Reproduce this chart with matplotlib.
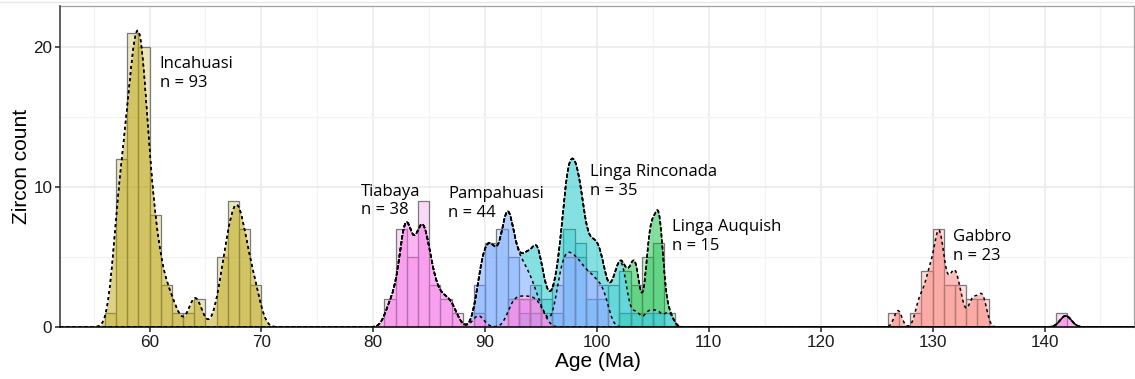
import numpy as np
import matplotlib.pyplot as plt
from matplotlib.colors import to_rgba
from matplotlib.ticker import MultipleLocator

# U-Pb zircon ages (Ma), one list per unit
gabbro = [126.9, 128.7, 129.1, 129.5, 129.7, 129.9, 130.15, 130.35, 130.45, 130.55,
          130.65, 130.8, 130.95, 131.2, 131.6, 131.8, 132.05, 132.2, 132.6, 133.4,
          133.8, 134.3, 134.6]

incahuasi = [56.75,
             57.02, 57.08, 57.15, 57.2, 57.3, 57.35, 57.45, 57.5, 57.6, 57.7, 57.8, 57.9,
             58.02, 58.05, 58.1, 58.15, 58.2, 58.25, 58.3, 58.35, 58.4, 58.45, 58.5,
             58.55, 58.6, 58.65, 58.7, 58.75, 58.8, 58.85, 58.9, 58.95, 58.98,
             59.02, 59.05, 59.08, 59.1, 59.12, 59.15, 59.2, 59.25, 59.3, 59.35, 59.4,
             59.45, 59.5, 59.55, 59.6, 59.65, 59.7, 59.8, 59.85, 59.9,
             60.05, 60.15, 60.25, 60.35, 60.5, 60.6, 60.75, 60.9,
             61.2, 61.5, 61.8, 62.3, 63.8, 64.1, 64.35,
             66.1, 66.5, 66.7, 66.85, 66.95,
             67.1, 67.25, 67.4, 67.5, 67.6, 67.7, 67.8, 67.9, 67.95,
             68.05, 68.15, 68.3, 68.45, 68.6, 68.75, 68.9,
             69.2, 69.45, 69.7]

linga_auquish = [102.9, 103.2, 103.4, 103.6, 104.5, 104.7, 104.8, 104.9, 104.95,
                 105.3, 105.45, 105.55, 105.6, 105.65, 105.75]

linga_rinconada = [93.85, 94.5, 94.65, 94.8, 95.2, 95.7, 96.3,
                   97.05, 97.2, 97.35, 97.5, 97.65, 97.8, 97.92,
                   98.05, 98.2, 98.35, 98.5, 98.7, 98.9,
                   99.4, 99.8, 100.1, 100.5, 101.3, 101.6, 101.85,
                   102.05, 102.2, 102.35, 102.6, 103.5, 104.6, 105.4, 106.4]

pampahuasi = [89.5, 89.75, 89.9, 90.1, 90.25, 90.4, 90.55, 90.7, 90.85,
              91.1, 91.3, 91.5, 91.65, 91.8, 91.9, 91.95,
              92.05, 92.15, 92.3, 92.5, 92.8, 93.2, 93.5, 94.1,
              96.5, 96.7, 96.9, 97.1, 97.3, 97.45, 97.6, 97.8,
              98.05, 98.2, 98.4, 98.6, 98.85, 99.1, 99.35, 99.6, 99.85,
              100.2, 100.5, 100.8]

tiabaya = [81.4, 81.75, 82.3, 82.5, 82.7, 82.8, 82.88, 82.94, 82.98,
           83.05, 83.15, 83.3, 83.7, 83.9,
           84.05, 84.15, 84.25, 84.35, 84.45, 84.55, 84.7, 84.85, 84.95,
           85.2, 85.5, 85.8, 86.3, 86.7, 87.2, 89.4,
           92.3, 92.7, 93.2, 93.6, 94.1, 94.5, 95.05, 141.9]

units = ['Gabbro', 'Incahuasi', 'Linga Auquish', 'Linga Rinconada', 'Pampahuasi', 'Tiabaya']
ages = [gabbro, incahuasi, linga_auquish, linga_rinconada, pampahuasi, tiabaya]
colours = ['#F8766D', '#B79F00', '#00BA38', '#00BFC4', '#619CFF', '#F564E3']
bandwidths = [0.34, 0.53, 0.35, 0.4, 0.45, 0.5]

# where each unit's name goes
label_xy = [(131.8, 5.75), (60.9, 18.1), (106.7, 6.43), (99.4, 10.38), (86.7, 8.79), (78.9, 9.0)]

x_min, x_max = 52, 148


def kde_counts(values, grid, bw):
    # gaussian kernel density scaled to counts per Ma
    v = np.asarray(values)
    z = (grid[:, None] - v[None, :]) / bw
    return np.exp(-0.5 * z ** 2).sum(axis=1) / (bw * np.sqrt(2 * np.pi))


fig = plt.figure(figsize=(11.35, 3.79), dpi=100)
ax = fig.add_axes([60 / 1135, 52 / 379, 1074 / 1135, 321 / 379])

# 1 Ma histograms, overlapping
edges = np.arange(x_min, x_max + 1, 1.0)
for a, c in zip(ages, colours):
    counts, _ = np.histogram(a, edges)
    keep = counts > 0
    ax.bar(edges[:-1][keep], counts[keep], width=1.0, align='edge',
           facecolor=to_rgba(c, 0.25), edgecolor='#7a7a7a', linewidth=0.9, zorder=2)

# stacked density curves, Tiabaya at the bottom
grid = np.linspace(x_min, x_max, 1500)
cum = np.zeros_like(grid)
tops = []
for i in reversed(range(len(units))):
    d = kde_counts(ages[i], grid, bandwidths[i])
    ax.fill_between(grid, cum, cum + d, color=colours[i], alpha=0.48, linewidth=0, zorder=3)
    cum = cum + d
    tops.append(cum.copy())
for top in tops:
    ax.plot(grid, top, color='black', linewidth=1.1, linestyle=(0, (2, 2)), zorder=4)

for (lx, ly), name, a in zip(label_xy, units, ages):
    ax.text(lx, ly, f'{name}\nn = {len(a)}', fontsize=12, family='Open Sans',
            ha='left', va='center', linespacing=1.25, zorder=5)

ax.set_xlim(x_min, x_max)
ax.set_ylim(0, 321 / 14)
ax.xaxis.set_major_locator(MultipleLocator(10))
ax.xaxis.set_minor_locator(MultipleLocator(5))
ax.yaxis.set_major_locator(MultipleLocator(10))
ax.yaxis.set_minor_locator(MultipleLocator(5))
ax.set_axisbelow(True)
ax.grid(which='major', color='#ebebeb', linewidth=1.2)
ax.grid(which='minor', color='#f3f3f3', linewidth=0.9)

for side in ['top', 'right']:
    ax.spines[side].set_color('#a0a0a0')
    ax.spines[side].set_linewidth(0.9)
ax.spines['left'].set_color('#333333')
ax.spines['left'].set_linewidth(1.1)
ax.spines['bottom'].set_color('black')
ax.spines['bottom'].set_linewidth(1.1)
ax.spines['left'].set_zorder(6)
ax.spines['bottom'].set_zorder(6)

ax.tick_params(which='major', length=3.5, width=1.1, color='#222222', labelsize=12.3,
               labelcolor='#1a1a1a', pad=2)
ax.tick_params(which='minor', length=0)
for lab in ax.get_xticklabels() + ax.get_yticklabels():
    lab.set_family('Liberation Sans')

ax.set_xlabel('Age (Ma)', fontsize=15, family='Liberation Sans')
ax.set_ylabel('Zircon count', fontsize=15, family='Liberation Sans')
ax.xaxis.set_label_coords(0.501, -0.109)
ax.xaxis.label.set_va('center')
ax.yaxis.set_label_coords(-0.0363, 0.5)
ax.yaxis.label.set_va('center')

fig.add_artist(plt.Line2D([0, 1], [1 - 1.5 / 379] * 2, color='#e8e8e8', linewidth=1,
                          transform=fig.transFigure))

fig.savefig('out.png', dpi=100)
